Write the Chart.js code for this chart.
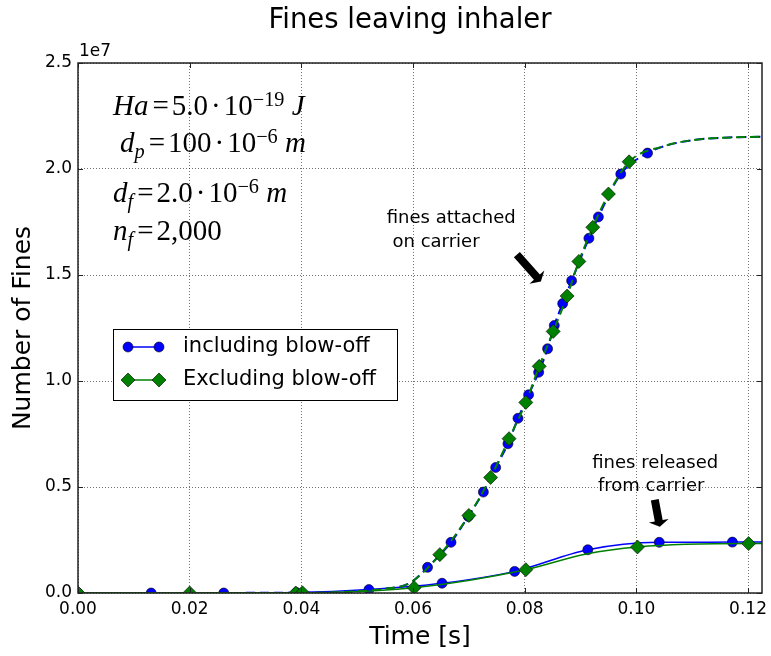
<!DOCTYPE html>
<html>
<head>
<meta charset="utf-8">
<title>Fines leaving inhaler</title>
<script src="https://cdn.jsdelivr.net/npm/chart.js"></script>
<style>
    body { margin: 0; background: #fff; }
    #wrap { position: relative; width: 771px; height: 656px; }
    #chart { position: absolute; left: 0; top: 0; }
    .math {
        position: absolute;
        font-family: "Liberation Serif", "DejaVu Serif", serif;
        font-size: 29px;
        line-height: 1;
        white-space: nowrap;
        color: #000;
    }
    .math .sup { position: relative; top: -0.45em; font-size: 0.7em; }
    .math .sub { position: relative; top: 0.3em; font-size: 0.7em; }
    .math .eq { margin: 0 3px 0 4px; }
    .math .dot { margin: 0 3px; }
</style>
</head>
<body>
<div id="wrap">
    <canvas id="chart" width="771" height="656"></canvas>
    <div class="math" style="left:113px; top:91px;"><i>Ha</i><span class="eq">=</span>5.0<span class="dot">·</span>10<span class="sup">−19</span> <i>J</i></div>
    <div class="math" style="left:120px; top:128px;"><i>d</i><span class="sub"><i>p</i></span><span class="eq">=</span>100<span class="dot">·</span>10<span class="sup">−6</span> <i>m</i></div>
    <div class="math" style="left:113px; top:178px;"><i>d</i><span class="sub"><i>f</i></span><span class="eq">=</span>2.0<span class="dot">·</span>10<span class="sup">−6</span> <i>m</i></div>
    <div class="math" style="left:113px; top:216px;"><i>n</i><span class="sub"><i>f</i></span><span class="eq">=</span>2,000</div>
</div>
<script>
// fines still attached to the carrier (dashed curves), marker points
const incAttachedT = [0.0626, 0.0668, 0.0699, 0.0726, 0.0748, 0.0770, 0.0788, 0.0807, 0.0825, 0.0841, 0.0853, 0.0868, 0.0884, 0.0915, 0.0932, 0.0972, 0.1020];
const incAttachedN = [1.21e6, 2.39e6, 3.61e6, 4.76e6, 5.92e6, 7.04e6, 8.24e6, 9.35e6, 10.41e6, 11.52e6, 12.62e6, 13.65e6, 14.73e6, 16.73e6, 17.74e6, 19.76e6, 20.75e6];
const excAttachedT = [0.0390, 0.0648, 0.0700, 0.0739, 0.0772, 0.0802, 0.0826, 0.0851, 0.0876, 0.0897, 0.0922, 0.0950, 0.0987];
const excAttachedN = [0, 1.81e6, 3.66e6, 5.45e6, 7.28e6, 8.99e6, 10.69e6, 12.34e6, 14.01e6, 15.64e6, 17.25e6, 18.82e6, 20.34e6];
// points read off the dashed line where there are no markers
const attachedLeadT = [0, 0.045, 0.050, 0.055, 0.0594];
const attachedLeadN = [0, 0.02e6, 0.08e6, 0.2e6, 0.47e6];
const attachedTailT = [0.105, 0.110, 0.115, 0.1225];
const attachedTailN = [21.08e6, 21.36e6, 21.47e6, 21.52e6];

// fines released from the carrier (solid curves)
const incReleasedT = [0, 0.0131, 0.0261, 0.0391, 0.0521, 0.0652, 0.0782, 0.0913, 0.1041, 0.1172];
const incReleasedN = [0, 0, 0, 0.02e6, 0.16e6, 0.46e6, 1.02e6, 2.04e6, 2.39e6, 2.40e6];
const incReleasedExtraT = [0.1225];
const incReleasedExtraN = [2.41e6];
const excReleasedT = [0, 0.0200, 0.0402, 0.0602, 0.0802, 0.1002, 0.1201];
const excReleasedN = [0, 0, 0.01e6, 0.25e6, 1.10e6, 2.17e6, 2.33e6];
const excReleasedExtraT = [0.0910, 0.1225];
const excReleasedExtraN = [1.84e6, 2.33e6];

const xTicks = [0, 0.02, 0.04, 0.06, 0.08, 0.10, 0.12];
const yTicks = [0, 0.5e7, 1.0e7, 1.5e7, 2.0e7, 2.5e7];

const seriesNames = ['including blow-off', 'Excluding blow-off'];
const BLUE = '#0000ff';
const GREEN = '#008000';

function points(t, n) {
    return t.map((x, i) => ({ x: x, y: n[i] }));
}

function curve(...parts) {
    let all = [];
    for (let i = 0; i < parts.length; i += 2) {
        all = all.concat(points(parts[i], parts[i + 1]));
    }
    return all.sort((a, b) => a.x - b.x);
}

function lineSet(data, color, dashed, order) {
    return {
        data: data,
        showLine: true,
        borderColor: color,
        borderWidth: dashed ? 2 : 1.5,
        borderDash: dashed ? [9, 5] : [],
        pointRadius: 0,
        pointHoverRadius: 0,
        cubicInterpolationMode: 'monotone',
        clip: 0,
        order: order
    };
}

function markerSet(label, data, color, style, radius, order) {
    return {
        label: label,
        data: data,
        showLine: false,
        pointStyle: style,
        pointRadius: radius,
        pointHoverRadius: radius,
        pointBackgroundColor: color,
        pointBorderColor: '#000',
        pointBorderWidth: 0.6,
        clip: 0,
        order: order
    };
}

function drawMarker(ctx, style, x, y, r, color) {
    ctx.beginPath();
    if (style === 'circle') {
        ctx.arc(x, y, r, 0, Math.PI * 2);
    } else {
        ctx.moveTo(x - r, y);
        ctx.lineTo(x, y - r);
        ctx.lineTo(x + r, y);
        ctx.lineTo(x, y + r);
        ctx.closePath();
    }
    ctx.fillStyle = color;
    ctx.fill();
    ctx.lineWidth = 0.6;
    ctx.strokeStyle = '#000';
    ctx.stroke();
}

function arrow(ctx, x0, y0, x1, y1) {
    const dx = x1 - x0, dy = y1 - y0;
    const len = Math.hypot(dx, dy);
    const ux = dx / len, uy = dy / len;
    const nx = -uy, ny = ux;
    const shaft = 4, head = 10, headLen = 6;
    const bx = x1 - ux * headLen, by = y1 - uy * headLen;
    ctx.beginPath();
    ctx.moveTo(x0 + nx * shaft, y0 + ny * shaft);
    ctx.lineTo(bx + nx * shaft, by + ny * shaft);
    ctx.lineTo(bx + nx * head, by + ny * head);
    ctx.lineTo(x1, y1);
    ctx.lineTo(bx - nx * head, by - ny * head);
    ctx.lineTo(bx - nx * shaft, by - ny * shaft);
    ctx.lineTo(x0 - nx * shaft, y0 - ny * shaft);
    ctx.closePath();
    ctx.fillStyle = '#000';
    ctx.fill();
}

const overlay = {
    id: 'overlay',
    afterDatasetsDraw(chart) {
        const { ctx, chartArea: a, scales: { x, y } } = chart;
        ctx.save();

        // frame and inward ticks
        ctx.strokeStyle = '#222';
        ctx.lineWidth = 1.5;
        ctx.strokeRect(a.left, a.top, a.right - a.left, a.bottom - a.top);
        ctx.lineWidth = 1;
        ctx.beginPath();
        xTicks.forEach(v => {
            const px = Math.round(x.getPixelForValue(v)) + 0.5;
            ctx.moveTo(px, a.bottom); ctx.lineTo(px, a.bottom - 5);
            ctx.moveTo(px, a.top); ctx.lineTo(px, a.top + 5);
        });
        yTicks.forEach(v => {
            const py = Math.round(y.getPixelForValue(v)) + 0.5;
            ctx.moveTo(a.left, py); ctx.lineTo(a.left + 5, py);
            ctx.moveTo(a.right, py); ctx.lineTo(a.right - 5, py);
        });
        ctx.stroke();

        // title and offset text
        ctx.fillStyle = '#000';
        ctx.textBaseline = 'middle';
        ctx.textAlign = 'center';
        ctx.font = '27.5px "DejaVu Sans"';
        ctx.fillText('Fines leaving inhaler', 410, 21);
        ctx.textAlign = 'left';
        ctx.font = '17px "DejaVu Sans"';
        ctx.fillText('1e7', a.left + 1, a.top - 11);

        // annotations
        ctx.font = '18px "DejaVu Sans"';
        ctx.fillText('fines attached', x.getPixelForValue(0.0553), y.getPixelForValue(17.66e6));
        ctx.fillText(' on carrier', x.getPixelForValue(0.0553), y.getPixelForValue(16.54e6));
        ctx.fillText('fines released', x.getPixelForValue(0.0921), y.getPixelForValue(6.10e6));
        ctx.fillText(' from carrier', x.getPixelForValue(0.0921), y.getPixelForValue(5.03e6));
        arrow(ctx, x.getPixelForValue(0.0786), y.getPixelForValue(15.96e6),
                   x.getPixelForValue(0.0829), y.getPixelForValue(14.69e6));
        arrow(ctx, x.getPixelForValue(0.1033), y.getPixelForValue(4.40e6),
                   x.getPixelForValue(0.1042), y.getPixelForValue(3.13e6));

        // legend
        const lx = 113, ly = 329, lw = 284, lh = 71;
        ctx.fillStyle = '#fff';
        ctx.fillRect(lx, ly, lw, lh);
        ctx.strokeStyle = '#000';
        ctx.lineWidth = 1;
        ctx.strokeRect(lx + 0.5, ly + 0.5, lw, lh);
        const rows = [
            { name: seriesNames[0], color: BLUE, style: 'circle', r: 5, yy: ly + 18 },
            { name: seriesNames[1], color: GREEN, style: 'diamond', r: 7, yy: ly + 51 }
        ];
        rows.forEach(row => {
            ctx.strokeStyle = row.color;
            ctx.lineWidth = 1.5;
            ctx.beginPath();
            ctx.moveTo(lx + 15, row.yy);
            ctx.lineTo(lx + 46, row.yy);
            ctx.stroke();
            drawMarker(ctx, row.style, lx + 15, row.yy, row.r, row.color);
            drawMarker(ctx, row.style, lx + 46, row.yy, row.r, row.color);
            ctx.fillStyle = '#000';
            ctx.font = '21px "DejaVu Sans"';
            ctx.textAlign = 'left';
            ctx.textBaseline = 'middle';
            ctx.fillText(row.name, lx + 70, row.yy);
        });
        ctx.restore();
    }
};

const datasets = [
    lineSet(curve(incAttachedT, incAttachedN, attachedLeadT, attachedLeadN, attachedTailT, attachedTailN), BLUE, true, 6),
    markerSet(seriesNames[0], points(incAttachedT, incAttachedN), BLUE, 'circle', 5, 5),
    lineSet(curve(incReleasedT, incReleasedN, incReleasedExtraT, incReleasedExtraN), BLUE, false, 4),
    markerSet(seriesNames[0], points(incReleasedT, incReleasedN), BLUE, 'circle', 5, 3),
    lineSet(curve(excAttachedT, excAttachedN, attachedLeadT, attachedLeadN, attachedTailT, attachedTailN), GREEN, true, 2),
    markerSet(seriesNames[1], points(excAttachedT, excAttachedN), GREEN, 'rectRot', 7, 1),
    lineSet(curve(excReleasedT, excReleasedN, excReleasedExtraT, excReleasedExtraN), GREEN, false, 1),
    markerSet(seriesNames[1], points(excReleasedT, excReleasedN), GREEN, 'rectRot', 7, 0)
];

const gridColor = 'rgba(0,0,0,0.55)';

new Chart(document.getElementById('chart'), {
    type: 'scatter',
    data: { datasets: datasets },
    options: {
        responsive: false,
        animation: false,
        events: [],
        layout: { padding: { left: 0, right: 9, top: 63, bottom: 0 } },
        plugins: {
            legend: { display: false },
            tooltip: { enabled: false },
            title: { display: false }
        },
        scales: {
            x: {
                type: 'linear',
                min: 0,
                max: 0.1225,
                afterBuildTicks: s => { s.ticks = xTicks.map(v => ({ value: v })); },
                afterFit: s => { s.height = 63; s.paddingLeft = 0; s.paddingRight = 0; },
                ticks: {
                    callback: v => v.toFixed(2),
                    color: '#000',
                    padding: 6,
                    maxRotation: 0,
                    font: { family: 'DejaVu Sans', size: 17 }
                },
                grid: { color: gridColor, lineWidth: 1, drawTicks: false },
                border: { display: false, dash: [1, 2] },
                title: {
                    display: true,
                    text: 'Time [s]',
                    color: '#000',
                    padding: { top: 0, bottom: 4 },
                    font: { family: 'DejaVu Sans', size: 25 }
                }
            },
            y: {
                type: 'linear',
                min: 0,
                max: 2.5e7,
                afterBuildTicks: s => { s.ticks = yTicks.map(v => ({ value: v })); },
                afterFit: s => { s.width = 78; s.paddingTop = 0; s.paddingBottom = 0; },
                ticks: {
                    callback: v => (v / 1e7).toFixed(1),
                    color: '#000',
                    padding: 6,
                    font: { family: 'DejaVu Sans', size: 17 }
                },
                grid: { color: gridColor, lineWidth: 1, drawTicks: false },
                border: { display: false, dash: [1, 2] },
                title: {
                    display: true,
                    text: 'Number of Fines',
                    color: '#000',
                    padding: { top: 8, bottom: 0 },
                    font: { family: 'DejaVu Sans', size: 25 }
                }
            }
        }
    },
    plugins: [overlay]
});
</script>
</body>
</html>
